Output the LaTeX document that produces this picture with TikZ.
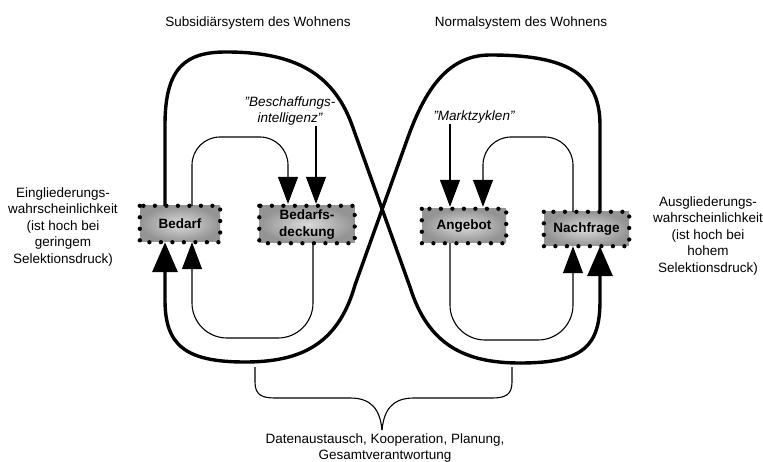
\documentclass[tikz,border=0pt]{standalone}
\usepackage{fontspec}
\setmainfont{Liberation Sans}
\usetikzlibrary{arrows.meta}
\newcommand{\sq}{\symbol{34}}
\begin{document}
\begin{tikzpicture}[x=1pt,y=-1pt,
  txt/.style={font=\fontsize{13.5}{16.5}\selectfont, align=center, inner sep=1pt},
  itxt/.style={font=\fontsize{13.5}{15.5}\selectfont\itshape, align=center, inner sep=1pt},
  box/.style={font=\fontsize{13.5}{17}\selectfont\bfseries, align=center, inner sep=0pt,
    inner color=black!14, outer color=black!42},
  dotframe/.style={draw=black, line width=4.3pt, line cap=round, dash pattern=on 0pt off 11.5pt},
  thickline/.style={line width=3.4pt, line join=round},
  thinline/.style={line width=1.1pt},
  bigtip/.style={-{Triangle[width=25pt,length=30pt]}},
  smalltip/.style={-{Triangle[width=20pt,length=27pt]}}
]
\path[use as bounding box, fill=white] (0,0) rectangle (763,462);

% titles
\node[txt] (t1) at (258,23) {Subsidiärsystem des Wohnens};
\node[txt] (t2) at (521,23) {Normalsystem des Wohnens};

% side texts
\node[txt] (lt) at (63,227) {Eingliederungs-\\wahrscheinlichkeit\\(ist hoch bei\\geringem\\Selektionsdruck)};
\node[txt] (rt) at (708,236) {Ausgliederungs-\\wahrscheinlichkeit\\(ist hoch bei\\hohem\\Selektionsdruck)};

% italic labels
\node[itxt] (besch) at (290,111) {\sq Beschaffungs-\\intelligenz\sq};
\node[itxt] (markt) at (474,117) {\sq Marktzyklen\sq};

% boxes
\node[box, minimum width=80pt, minimum height=36pt] (bedarf) at (180,224) {Bedarf};
\node[box, minimum width=95pt, minimum height=37pt] (bdeck) at (307,224.5) {Bedarfs-\\deckung};
\node[box, minimum width=84pt, minimum height=34pt] (angebot) at (464,226) {Angebot};
\node[box, minimum width=85pt, minimum height=34pt] (nach) at (586.5,229) {Nachfrage};
\foreach \n in {bedarf,bdeck,angebot,nach}{
  \draw[dotframe] (\n.north west) rectangle (\n.south east);
}

% outer thick figure-eight
\draw[thickline, bigtip] (165,0 |- bedarf.north) -- (165,125)
  .. controls (165,68) and (185,52) .. (226,52)
  .. controls (290,52) and (332,70) .. (352,125)
  -- (410,287)
  .. controls (428,345) and (465,363) .. (520,363)
  .. controls (585,363) and (600,345) .. (600,300)
  -- (600,0 |- nach.south);
\draw[thickline, bigtip] (600,0 |- nach.north) -- (600,125)
  .. controls (600,70) and (560,55) .. (490,55)
  .. controls (445,55) and (423,95) .. (407,140)
  -- (355,285)
  .. controls (338,345) and (300,362) .. (245,362)
  .. controls (185,362) and (165,345) .. (165,300)
  -- (165,0 |- bedarf.south);

% inner thin loops
\draw[thinline, smalltip, rounded corners=28pt, shorten >=2pt] (192,0 |- bedarf.north) -- (192,137) -- (288,137) -- (288,0 |- bdeck.north);
\draw[thinline, smalltip, rounded corners=28pt, shorten >=2pt] (573,0 |- nach.north) -- (573,137) -- (483,137) -- (483,0 |- angebot.north);
\draw[thinline, smalltip, rounded corners=35pt] (313,0 |- bdeck.south) -- (313,338) -- (192,338) -- (192,0 |- bedarf.south);
\draw[thinline, smalltip, rounded corners=35pt] (450,0 |- angebot.south) -- (450,340) -- (573,340) -- (573,0 |- nach.south);

% label arrows
\draw[thinline, smalltip, shorten >=2pt] (316,0 |- besch.south) -- (316,0 |- bdeck.north);
\draw[thinline, smalltip, shorten >=2pt] (450,0 |- markt.south) -- (450,0 |- angebot.north);

% brace
\coordinate (bl) at (255,367);
\coordinate (br) at (512,367);
\coordinate (bc) at (382,430);
\draw[thinline] (bl) -- (255,382) .. controls (255,395) and (262,398) .. (275,398) -- (350,398)
  .. controls (372,398) and (380,410) .. (bc);
\draw[thinline] (br) -- (512,382) .. controls (512,395) and (505,398) .. (492,398) -- (414,398)
  .. controls (392,398) and (384,410) .. (bc);

\node[txt] (bt) at (385,448) {Datenaustausch, Kooperation, Planung,\\Gesamtverantwortung};
\end{tikzpicture}
\end{document}
